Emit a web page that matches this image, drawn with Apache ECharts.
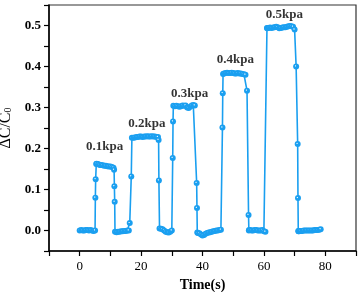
<html>
  <head>
    <meta charset="utf-8" />
    <title>dC/C0 vs time</title>
  </head>
  <body style="margin:0">
    <div id="chart" style="width:361px;height:292px"></div>
    <script src="https://cdn.jsdelivr.net/npm/echarts@6/dist/echarts.min.js"></script>
    <script type="text/javascript">
      // values
      var time = [
        0, 0.5, 1, 1.5, 2, 2.5, 3, 3.5, 4, 4.5, 5,
        5.1, 5.2, 5.4, 5.5, 6, 6.5, 7, 7.5, 8, 8.5, 9, 9.5, 10, 10.5, 11,
        11.2, 11.3, 11.4, 11.5, 12, 12.5, 13, 13.5, 14, 14.5, 15, 15.5, 16,
        16.3, 16.8, 17, 17.5, 18, 18.5, 19, 19.5, 20, 20.5, 21, 21.5, 22, 22.5, 23, 23.5, 24, 24.5, 25, 25.5,
        25.7, 25.8, 26, 26.5, 27, 27.5, 28, 28.5, 29, 29.5, 30,
        30.3, 30.4, 30.5, 31, 31.5, 32, 32.5, 33, 33.5, 34, 34.5, 35, 35.5, 36, 36.5, 37, 37.5,
        38.1, 38.2, 38.3, 38.5, 39, 39.5, 40, 40.5, 41, 41.5, 42, 42.5, 43, 43.5, 44, 44.5, 45, 45.5, 46, 46.5,
        46.6, 46.7, 47, 47.5, 48, 48.5, 49, 49.5, 50, 50.5, 51, 51.5, 52, 52.5, 53, 53.5, 54, 54.5,
        55, 55.1, 55.2, 55.5, 56, 56.5, 57, 57.5, 58, 58.5, 59, 59.5, 60, 60.5, 61,
        61.1, 61.5, 62, 62.5, 63, 63.5, 64, 64.5, 65, 65.5, 66, 66.5, 67, 67.5, 68, 68.5, 69, 69.5, 70, 70.5,
        71, 71.1, 71.2, 71.3, 71.4, 71.5, 72, 72.5, 73, 73.5, 74, 74.5, 75, 75.5, 76, 76.5, 77, 77.5, 78, 78.5, 79, 79.5
      ];
      var dC = [
        0.000, 0.001, 0.000, 0.000, 0.001, 0.001, 0.000, 0.001, 0.000, -0.001, 0.000,
        0.080, 0.125, 0.162, 0.163, 0.162, 0.160, 0.160, 0.159, 0.158, 0.158, 0.157, 0.156, 0.156, 0.155, 0.153,
        0.148, 0.108, 0.070, -0.003, -0.004, -0.003, -0.003, -0.002, -0.002, -0.001, -0.001, 0.000, 0.000,
        0.018, 0.132, 0.226, 0.226, 0.227, 0.228, 0.228, 0.229, 0.229, 0.228, 0.229, 0.229, 0.230, 0.229, 0.229, 0.230, 0.229, 0.229, 0.228, 0.228,
        0.221, 0.122, 0.005, 0.004, 0.003, 0.000, -0.003, -0.004, -0.005, -0.003, 0.000,
        0.177, 0.266, 0.304, 0.303, 0.304, 0.303, 0.302, 0.303, 0.305, 0.304, 0.305, 0.300, 0.299, 0.302, 0.305, 0.306, 0.305,
        0.116, 0.055, -0.005, -0.006, -0.007, -0.010, -0.012, -0.011, -0.008, -0.006, -0.005, -0.004, -0.003, -0.002, -0.001, 0.000, 0.000, 0.001, 0.002,
        0.251, 0.335, 0.382, 0.383, 0.384, 0.385, 0.384, 0.384, 0.385, 0.384, 0.383, 0.383, 0.384, 0.383, 0.383, 0.382, 0.381, 0.380,
        0.341, 0.038, 0.000, 0.001, 0.001, 0.000, 0.000, 0.001, 0.001, 0.000, 0.000, 0.000, 0.001, -0.002, -0.003,
        0.494, 0.493, 0.494, 0.495, 0.494, 0.495, 0.496, 0.497, 0.496, 0.493, 0.494, 0.495, 0.496, 0.496, 0.497, 0.498, 0.499, 0.498, 0.497,
        0.490, 0.400, 0.211, 0.079, -0.001, -0.002, -0.002, -0.001, -0.001, -0.001, 0.000, 0.000, 0.000, 0.000, 0.000, 0.000, 0.000, 0.001, 0.001, 0.001, 0.002, 0.003
      ];
      // pressure labels and where they sit (data coords)
      var loadNames = ["0.1kpa", "0.2kpa", "0.3kpa", "0.4kpa", "0.5kpa"];
      var loadLabelT = [8.1, 21.9, 35.8, 50.7, 66.7];
      var loadLabelV = [0.205, 0.26, 0.335, 0.416, 0.526];

      var blue = "#1a9ff0";
      var serif = "'Liberation Serif', 'DejaVu Serif', serif";

      var curve = time.map(function(t, i) {
        return [t, dC[i]];
      });
      var labelPts = loadNames.map(function(n, i) {
        return { name: n, value: [loadLabelT[i], loadLabelV[i]] };
      });

      var chart = echarts.init(document.getElementById("chart"));
      chart.setOption({
        animation: false,
        grid: {
          left: 49, right: 5, top: 5, bottom: 41,
          containLabel: false,
          outerBoundsMode: "none",
          show: true, borderColor: "#333", borderWidth: 1.2
        },
        xAxis: {
          type: "value",
          min: -10,
          max: 90,
          interval: 10,
          name: "Time(s)",
          nameLocation: "middle",
          nameGap: 24,
          nameTextStyle: { fontFamily: serif, fontWeight: "bold", fontSize: 14, color: "#000" },
          axisLine: { onZero: false, lineStyle: { color: "#000", width: 1.5 } },
          axisTick: {
            length: 5,
            lineStyle: { color: "#000", width: 1.2 }
          },
          axisLabel: {
            fontFamily: serif,
            fontSize: 13,
            color: "#000",
            margin: 9,
            formatter: function(v) {
              return v % 20 === 0 && v >= 0 && v <= 80 ? v : "";
            }
          },
          splitLine: { show: false }
        },
        yAxis: {
          type: "value",
          min: -0.05,
          max: 0.55,
          interval: 0.05,
          name: "ΔC/C{s|0}",
          nameLocation: "middle",
          nameGap: 25,
          nameTextStyle: {
            fontFamily: serif,
            fontSize: 16,
            color: "#000",
            rich: { s: { fontFamily: serif, fontSize: 10, color: "#000", verticalAlign: "bottom", padding: [7, 0, 0, 0] } }
          },
          axisLine: { show: true, onZero: false, lineStyle: { color: "#000", width: 1.5 } },
          axisTick: { length: 5, lineStyle: { color: "#000", width: 1.2 } },
          axisLabel: {
            fontFamily: serif,
            fontWeight: "bold",
            fontSize: 13,
            color: "#000",
            margin: 8,
            formatter: function(v) {
              var r = Math.round(v * 100);
              return r % 10 === 0 && r >= 0 ? (r / 100).toFixed(1) : "";
            }
          },
          splitLine: { show: false }
        },
        series: [
          {
            type: "line",
            data: curve,
            symbol: "circle",
            symbolSize: 6,
            showAllSymbol: true,
            lineStyle: { color: blue, width: 1.6 },
            itemStyle: {
              color: {
                type: "radial",
                x: 0.4,
                y: 0.4,
                r: 0.6,
                colorStops: [
                  { offset: 0, color: "#ffffff" },
                  { offset: 0.3, color: blue },
                  { offset: 1, color: blue }
                ]
              }
            }
          },
          {
            type: "scatter",
            data: labelPts,
            symbolSize: 0,
            silent: true,
            label: {
              show: true,
              position: "inside",
              formatter: "{b}",
              fontFamily: serif,
              fontWeight: "bold",
              fontSize: 13,
              color: "#000"
            }
          }
        ]
      });
    </script>
  </body>
</html>
